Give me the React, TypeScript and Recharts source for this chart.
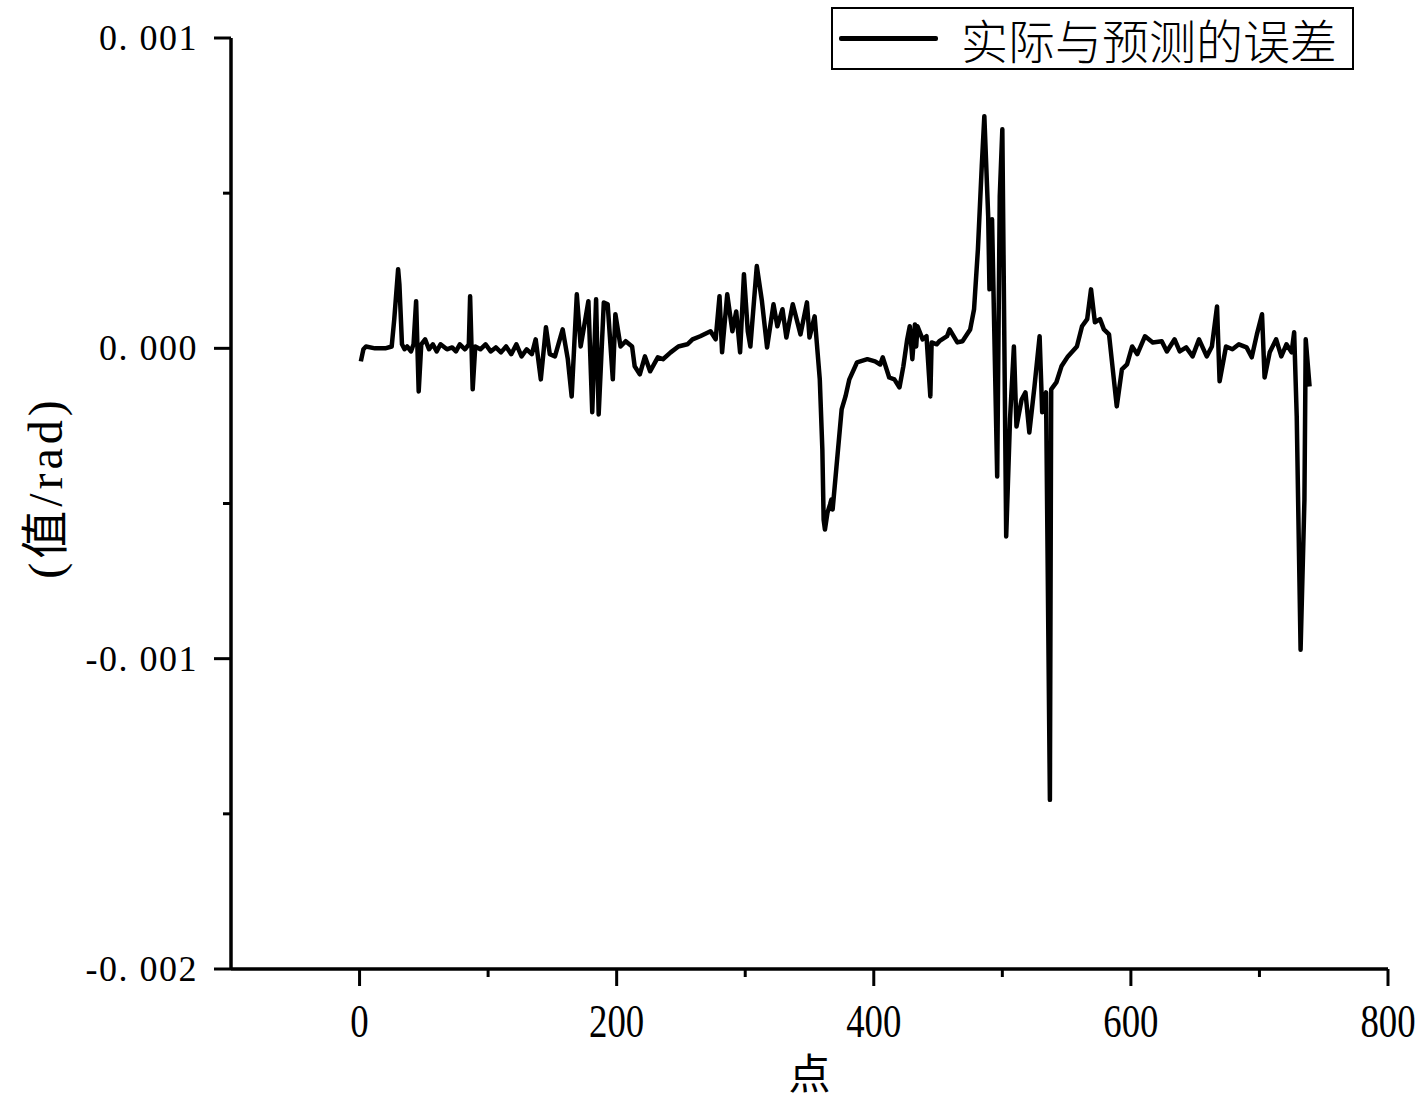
import { LineChart, Line, XAxis, YAxis, Legend } from 'recharts';

// point index along the run
const pointIndex = [
  1, 3, 5, 12, 20, 25, 27, 30, 31, 33, 35, 37, 40, 42, 44, 46, 48, 51, 54, 57,
  60, 63, 68, 72, 75, 78, 82, 85, 86, 88, 90, 94, 98, 102, 106, 110, 114, 118, 122, 126,
  130, 134, 137, 141, 145, 148, 152, 158, 162, 165, 169, 172, 176, 178, 181, 184, 186, 190, 193, 197,
  199, 203, 207, 212, 214, 218, 222, 226, 232, 236, 242, 248, 255, 259, 265, 273, 277, 280, 282, 286,
  290, 293, 296, 299, 302, 304, 309, 313, 317, 322, 325, 329, 332, 337, 343, 348, 350, 354, 358, 360,
  361, 362, 364, 366, 367, 368, 371, 375, 378, 381, 387, 395, 401, 405, 407, 412, 416, 420, 423, 426,
  428, 430, 432, 433, 434, 438, 441, 444, 445, 449, 451, 457, 459, 465, 469, 475, 478, 481, 484, 486,
  489, 490, 492, 496, 498, 500, 503, 506, 509, 511, 515, 518, 521, 525, 529, 531, 534, 537, 538, 542,
  546, 551, 558, 562, 566, 569, 572, 576, 579, 583, 589, 593, 597, 601, 605, 611, 617, 624, 628, 634,
  638, 643, 648, 653, 659, 663, 667, 669, 674, 679, 684, 690, 694, 698, 702, 704, 708, 713, 717, 721,
  725, 727, 729, 732, 735, 736, 739,
];

// error, in micro-radians (1e-6 rad)
const errorMicroRad = [
  -42, -3, 6, 0, 0, 6, 94, 255, 206, 13, -3, 6, -10, 13, 152, -139, 13, 29, -3, 13,
  -10, 13, -3, 3, -10, 13, -3, 13, 168, -132, 6, -3, 13, -10, 3, -13, 6, -19, 13, -26,
  -3, -19, 29, -100, 68, -19, -26, 61, -35, -155, 174, 6, 103, 152, -206, 158, -213, 148, 142, -100,
  110, 6, 23, 6, -58, -84, -26, -74, -29, -35, -13, 6, 13, 29, 39, 55, 29, 168, -13, 174,
  55, 119, -13, 239, 55, 6, 265, 152, 3, 142, 71, 126, 35, 142, 45, 148, 35, 103, -100, -326,
  -552, -584, -529, -503, -487, -519, -381, -197, -155, -100, -45, -35, -42, -52, -29, -94, -100, -126, -58, 29,
  71, -35, 77, 6, 71, 29, 39, -155, 19, 13, 23, 39, 61, 19, 23, 61, 126, 319, 587, 748,
  426, 190, 416, -413, 490, 706, -606, -226, 6, -252, -165, -142, -271, -123, 39, -206, -142, -1455, -132, -110,
  -58, -26, 6, 71, 94, 190, 84, 94, 61, 45, -187, -68, -52, 6, -19, 39, 19, 23, -10, 29,
  -10, 3, -26, 29, -26, 6, 135, -106, 6, -3, 13, 3, -29, 45, 110, -94, -13, 29, -26, 13,
  -13, 52, -219, -971, -487, 29, -123,
];

const xTicks = [0, 100, 200, 300, 400, 500, 600, 700, 800];
const xMajor = [0, 200, 400, 600, 800];
const yTicks = [-0.002, -0.0015, -0.001, -0.0005, 0, 0.0005, 0.001];
const yMajor = [-0.002, -0.001, 0, 0.001];

const seriesName = '实际与预测的误差';
const xLabel = '点';
const yLabel = '(值/rad)';

const data = pointIndex.map((x, i) => ({ x, err: errorMicroRad[i] * 1e-6 }));

const serif = '"Liberation Serif", "Noto Sans CJK SC", serif';
const cjk = '"Noto Sans CJK SC", "Liberation Serif", sans-serif';

function isMajor(list: number[], v: number) {
  return list.some((m) => Math.abs(m - v) < 1e-12);
}

function formatY(v: number): string {
  const s = Math.abs(v).toFixed(3).replace('.', '. ');
  return (v < -1e-12 ? '-' : '') + s;
}

function XTick(props: any) {
  const { x, y, payload } = props;
  const major = isMajor(xMajor, payload.value);
  return (
    <g>
      <line x1={x} y1={y} x2={x} y2={y + (major ? 17 : 8)} stroke="#000" strokeWidth={3} />
      {major && (
        <text
          x={0}
          y={0}
          transform={`translate(${x},${y + 68}) scale(0.8,1)`}
          textAnchor="middle"
          fontSize={46}
          fontFamily={serif}
          fill="#000"
        >
          {payload.value}
        </text>
      )}
    </g>
  );
}

function YTick(props: any) {
  const { x, y, payload } = props;
  const major = isMajor(yMajor, payload.value);
  return (
    <g>
      <line x1={x} y1={y} x2={x - (major ? 17 : 8)} y2={y} stroke="#000" strokeWidth={3} />
      {major && (
        <text
          x={x - 33}
          y={y + 12}
          textAnchor="end"
          fontSize={36}
          letterSpacing={1.5}
          fontFamily={serif}
          fill="#000"
        >
          {formatY(payload.value)}
        </text>
      )}
    </g>
  );
}

function YAxisLabel(props: any) {
  const { viewBox } = props;
  const cx = viewBox.x + 45;
  const cy = viewBox.y + viewBox.height / 2 - 16;
  return (
    <text
      x={cx}
      y={cy}
      transform={`rotate(-90, ${cx}, ${cy})`}
      textAnchor="middle"
      dominantBaseline="central"
      fontSize={48}
      letterSpacing={4}
      fontFamily={serif}
      fill="#000"
    >
      {yLabel}
    </text>
  );
}

function XAxisLabel(props: any) {
  const { viewBox } = props;
  const cx = viewBox.x + viewBox.width / 2;
  return (
    <text x={cx} y={viewBox.y + 120} textAnchor="middle" fontSize={42} fontFamily={cjk} fill="#000">
      {xLabel}
    </text>
  );
}

function LegendBox() {
  return (
    <div
      style={{
        boxSizing: 'border-box',
        width: 523,
        height: 63,
        border: '2px solid #000',
        background: '#fff',
        position: 'relative',
      }}
    >
      <div
        style={{
          position: 'absolute',
          left: 6,
          top: 27,
          width: 99,
          height: 5,
          background: '#000',
          borderRadius: 2,
        }}
      />
      <div
        style={{
          position: 'absolute',
          left: 128,
          top: 0,
          height: 59,
          lineHeight: '59px',
          fontSize: 47,
          fontWeight: 300,
          fontFamily: cjk,
          color: '#000',
          whiteSpace: 'nowrap',
        }}
      >
        {seriesName}
      </div>
    </div>
  );
}

export default function App() {
  return (
    <div style={{ position: 'absolute', left: 0, top: 0, width: 1426, height: 1107, background: '#fff' }}>
      <LineChart width={1426} height={1107} data={data} margin={{ top: 38, right: 38, left: 0, bottom: 0 }}>
        <XAxis
          type="number"
          dataKey="x"
          domain={[-100, 800]}
          ticks={xTicks}
          interval={0}
          allowDataOverflow
          height={138}
          tickSize={0}
          tickMargin={0}
          tickLine={false}
          axisLine={{ stroke: '#000', strokeWidth: 3.5 }}
          tick={<XTick />}
          label={<XAxisLabel />}
        />
        <YAxis
          type="number"
          domain={[-0.002, 0.001]}
          ticks={yTicks}
          interval={0}
          allowDataOverflow
          width={231}
          tickSize={0}
          tickMargin={0}
          tickLine={false}
          axisLine={{ stroke: '#000', strokeWidth: 3.5 }}
          tick={<YTick />}
          label={<YAxisLabel />}
        />
        <Legend
          layout="horizontal"
          verticalAlign="middle"
          align="center"
          wrapperStyle={{ left: 831, top: 7, width: 523, height: 63 }}
          content={() => <LegendBox />}
        />
        <Line
          type="linear"
          dataKey="err"
          name={seriesName}
          stroke="#000"
          strokeWidth={4.5}
          strokeLinejoin="round"
          dot={false}
          activeDot={false}
          isAnimationActive={false}
        />
      </LineChart>
    </div>
  );
}
